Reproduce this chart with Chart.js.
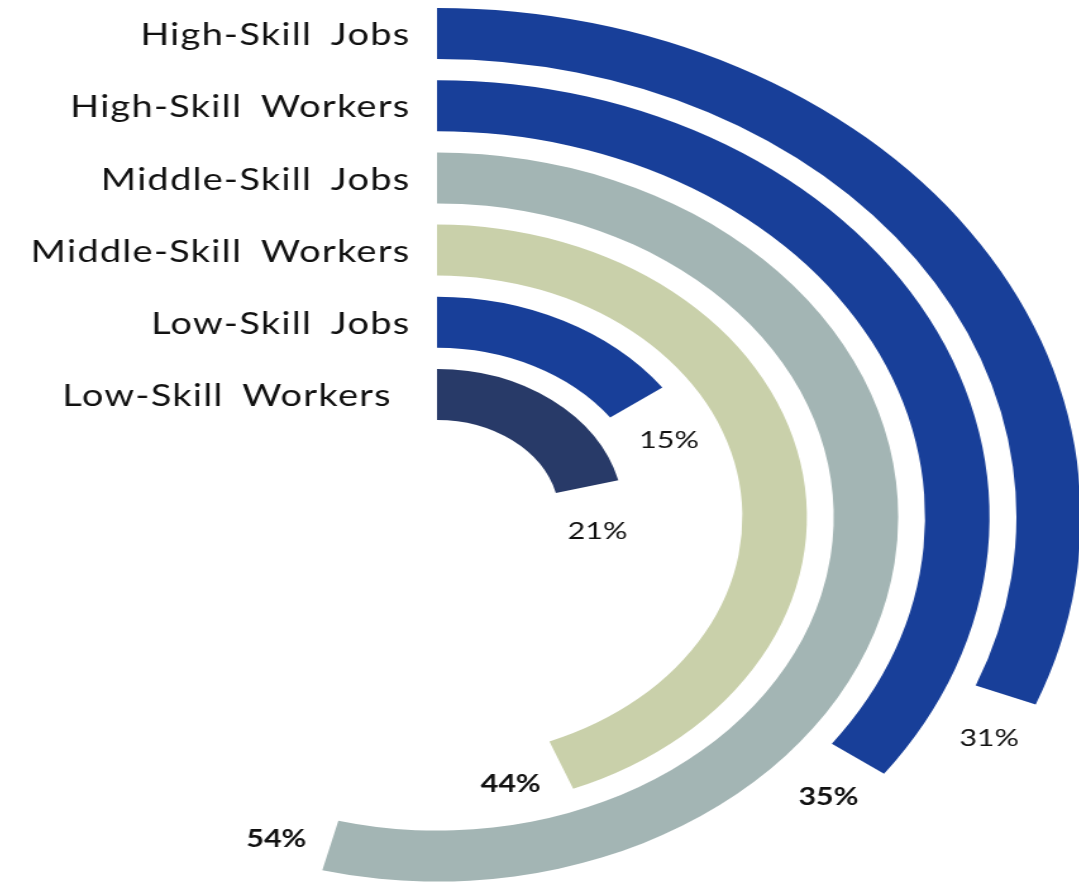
<!DOCTYPE html>
<html>
<head>
<meta charset="utf-8">
<script src="https://cdn.jsdelivr.net/npm/chart.js@4.4.1/dist/chart.umd.min.js"></script>
<style>
  html, body { margin: 0; padding: 0; background: #ffffff; width: 1079px; height: 883px; overflow: hidden; }
  /* the rings are drawn as circles and widened into ellipses */
  #wrap { position: absolute; left: -83px; top: -3px; width: 1040px; height: 1040px;
          transform: scaleX(1.265); transform-origin: 520px 520px; }
</style>
</head>
<body>
<div id="wrap"><canvas id="chart" width="1040" height="1040"></canvas></div>
<script>
// Share of jobs vs. share of workers by skill level (percent)
const categories = ['High-Skill Jobs', 'High-Skill Workers', 'Middle-Skill Jobs', 'Middle-Skill Workers', 'Low-Skill Jobs', 'Low-Skill Workers '];
const shares = [31, 35, 54, 44, 15, 21];

// styling
const ringColors = ['#183f99', '#183f99', '#a3b5b4', '#c9d0aa', '#183f99', '#283a68'];
const boldValue = [false, true, true, true, false, false];
const RING_WEIGHT = 51;
const GAP_WEIGHT = 21.2;
const CLEAR = 'rgba(0,0,0,0)';

// one ring per category, with an empty ring between neighbours as spacing
const datasets = [];
const ringIndex = [];
categories.forEach((name, i) => {
  ringIndex.push(datasets.length);
  datasets.push({
    label: name,
    data: [shares[i], 100 - shares[i]],
    backgroundColor: [ringColors[i], CLEAR],
    borderWidth: 0, hoverBorderWidth: 0, offset: 0, hoverOffset: 0,
    weight: RING_WEIGHT
  });
  if (i < categories.length - 1) {
    datasets.push({
      label: '',
      data: [1],
      backgroundColor: [CLEAR],
      borderWidth: 0, hoverBorderWidth: 0, offset: 0, hoverOffset: 0,
      weight: GAP_WEIGHT
    });
  }
});

const ringLabels = {
  id: 'ringLabels',
  afterDraw(chart) {
    const ctx = chart.ctx;
    ringIndex.forEach((dsIndex, i) => {
      const arc = chart.getDatasetMeta(dsIndex).data[0];
      const p = arc.getProps(['x', 'y', 'endAngle', 'innerRadius', 'outerRadius'], true);
      const mid = (p.innerRadius + p.outerRadius) / 2;
      ctx.save();
      ctx.fillStyle = '#111111';
      // category name at the start of the ring
      ctx.font = '30px Lato';
      ctx.letterSpacing = '1px';
      ctx.wordSpacing = '6px';
      ctx.textAlign = 'right';
      ctx.textBaseline = 'middle';
      ctx.fillText(categories[i], p.x - 21, p.y - mid + 2);
      // value just past the end of the ring
      ctx.letterSpacing = '0px';
      ctx.wordSpacing = '0px';
      ctx.font = (boldValue[i] ? 'bold ' : '') + '24px Lato';
      ctx.textAlign = 'center';
      const a = p.endAngle + 43 / mid;
      const r = mid + 5;
      ctx.fillText(shares[i] + '%', p.x + Math.cos(a) * r, p.y + Math.sin(a) * r + 2);
      ctx.restore();
    });
  }
};

new Chart(document.getElementById('chart'), {
  type: 'doughnut',
  data: { labels: ['value', 'rest'], datasets },
  options: {
    responsive: false,
    animation: false,
    events: [],
    cutout: 97,
    rotation: 0,
    circumference: 360,
    layout: { padding: 11 },
    plugins: { legend: { display: false }, tooltip: { enabled: false } }
  },
  plugins: [ringLabels]
});
</script>
</body>
</html>
